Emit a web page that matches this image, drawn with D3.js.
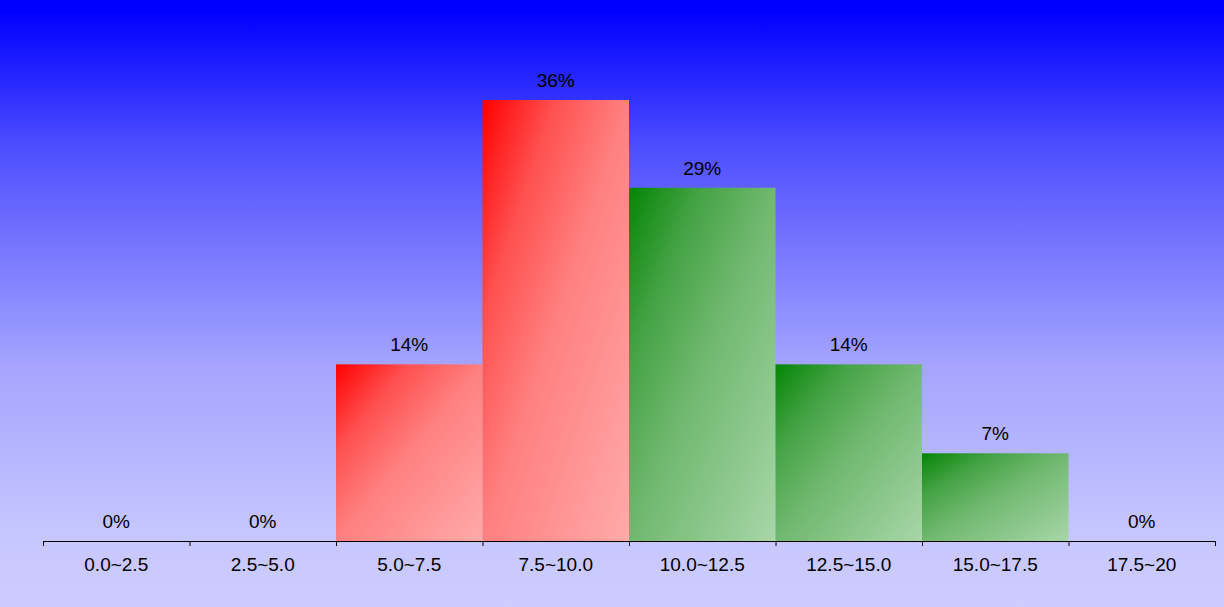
<!DOCTYPE html>
<html lang="en">
<head>
  <meta charset="UTF-8" />
  <title>Histogram</title>
  <script src="https://d3js.org/d3.v7.min.js"></script>
  <style>
    body { margin: 0; overflow: hidden; font-family: 'Liberation Sans', Arial, sans-serif; }
    .bar-label, .cat-label { font-size: 19px; fill: #000; text-anchor: middle; }
  </style>
</head>
<body>
  <svg id="chart"></svg>
  <script>
    // bins along the x axis
    const categories = ["0.0~2.5", "2.5~5.0", "5.0~7.5", "7.5~10.0", "10.0~12.5", "12.5~15.0", "15.0~17.5", "17.5~20"];
    // share of values in each bin, percent
    const percents = [0, 0, 14.3, 35.7, 28.6, 14.3, 7.1, 0];
    // colour group of each bin
    const groups = ["green", "green", "red", "red", "green", "green", "green", "green"];

    const width = 1224, height = 607;
    const margin = { top: 100, right: 9, bottom: 66, left: 43 };
    const baseY = height - margin.bottom;

    const svg = d3.select('#chart').attr('width', width).attr('height', height);
    const defs = svg.append('defs');

    // background gradient
    const bg = defs.append('linearGradient').attr('id', 'bg')
      .attr('x1', 0).attr('y1', 0).attr('x2', 0).attr('y2', 1);
    [[0, '#0000ff'], [0.02, '#0000ff'], [0.25, '#5050ff'], [0.6, '#a4a4ff'], [0.9, '#c8c8ff'], [1, '#ccccff']]
      .forEach(([o, c]) => bg.append('stop').attr('offset', o).attr('stop-color', c));

    // bar gradients, corner to corner
    const barStops = {
      red: [[0, '#ff0000'], [0.25, '#ff5050'], [0.5, '#ff8080'], [1, '#ffaaaa']],
      green: [[0, '#058505'], [0.25, '#45a345'], [0.5, '#70b870'], [1, '#a8d6a8']]
    };
    Object.entries(barStops).forEach(([k, stops]) => {
      const g = defs.append('linearGradient').attr('id', 'grad-' + k)
        .attr('x1', 0).attr('y1', 0).attr('x2', 1).attr('y2', 1);
      stops.forEach(([o, c]) => g.append('stop').attr('offset', o).attr('stop-color', c));
    });

    svg.append('rect').attr('width', width).attr('height', height).attr('fill', 'url(#bg)');

    const x = d3.scaleBand()
      .domain(categories)
      .range([margin.left, width - margin.right])
      .padding(0);

    const y = d3.scaleLinear()
      .domain([0, d3.max(percents)])
      .range([baseY, margin.top]);

    const data = categories.map((c, i) => ({ cat: c, value: percents[i], group: groups[i] }));

    svg.append('g').selectAll('rect')
      .data(data.filter(d => d.value > 0))
      .join('rect')
      .attr('x', d => x(d.cat))
      .attr('y', d => y(d.value))
      .attr('width', x.bandwidth())
      .attr('height', d => baseY - y(d.value))
      .attr('fill', d => `url(#grad-${d.group})`);

    svg.append('g').selectAll('text')
      .data(data)
      .join('text')
      .attr('class', 'bar-label')
      .attr('x', d => x(d.cat) + x.bandwidth() / 2)
      .attr('y', d => y(d.value) - 13)
      .text(d => Math.round(d.value) + '%');

    // axis with ticks on the bin edges
    const edges = d3.scaleLinear()
      .domain([0, categories.length])
      .range([margin.left, width - margin.right]);

    const axis = svg.append('g')
      .attr('transform', `translate(0,${baseY})`)
      .call(d3.axisBottom(edges)
        .tickValues(d3.range(categories.length + 1))
        .tickSize(5)
        .tickFormat(''));
    axis.select('.domain').attr('stroke', '#000');
    axis.selectAll('.tick line').attr('stroke', '#000');

    svg.append('g').selectAll('text')
      .data(categories)
      .join('text')
      .attr('class', 'cat-label')
      .attr('x', d => x(d) + x.bandwidth() / 2)
      .attr('y', baseY + 30)
      .text(d => d);
  </script>
</body>
</html>
